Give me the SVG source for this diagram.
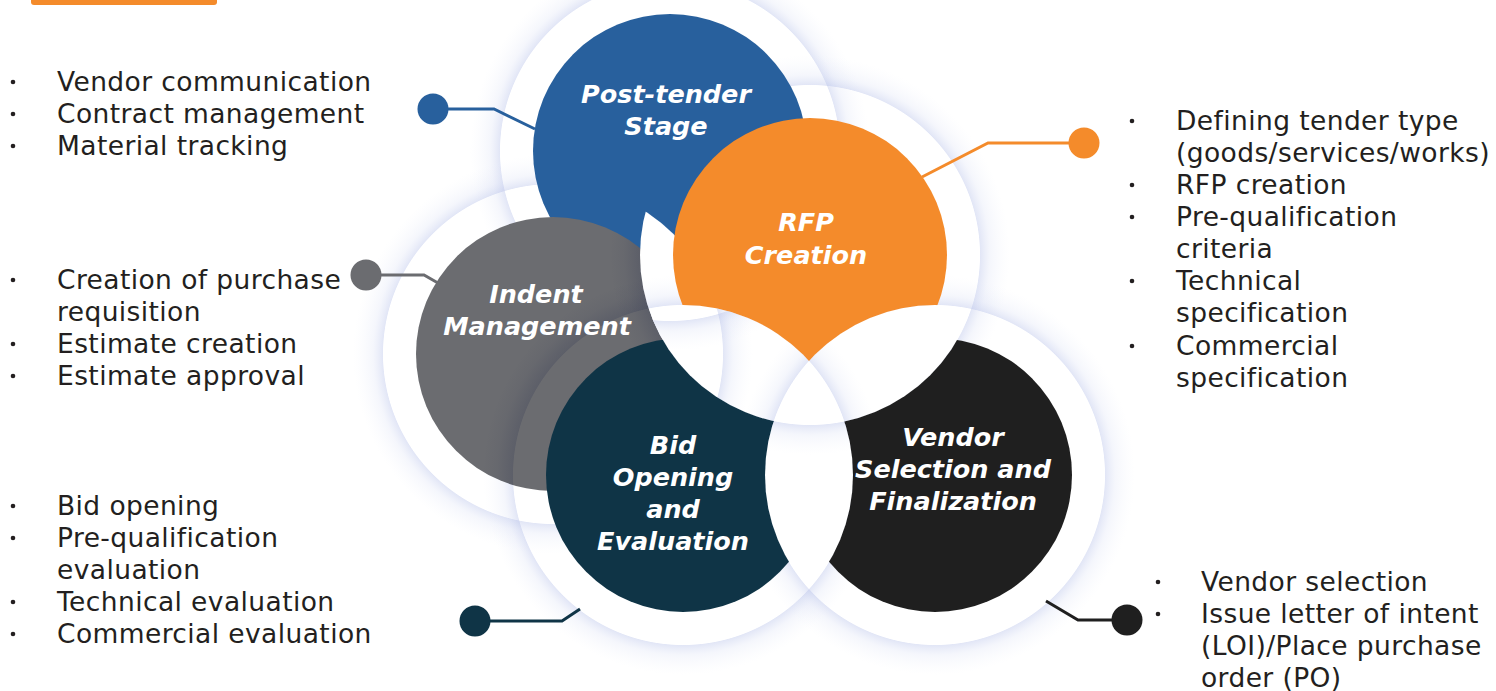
<svg xmlns="http://www.w3.org/2000/svg" width="1496" height="691" viewBox="0 0 1496 691">
<defs>
<style>
.lst{font-family:"DejaVu Sans",sans-serif;font-size:26.5px;fill:#231f20;letter-spacing:0.4px}
.ttl{font-family:"DejaVu Sans",sans-serif;font-size:25.5px;font-weight:bold;font-style:italic;fill:#ffffff;text-anchor:middle}
.blt{fill:#231f20}
.halo{fill:#ffffff}
.glow{fill:url(#glowGrad)}
.shade{fill:url(#shadeGrad)}
.conn{fill:none;stroke-width:3}
</style>
<radialGradient id="glowGrad" cx="0.5" cy="0.5" r="0.5">
<stop offset="0.848" stop-color="#b3bee8" stop-opacity="0"/>
<stop offset="0.852" stop-color="#b3bee8" stop-opacity="0.38"/>
<stop offset="0.9" stop-color="#c6cfef" stop-opacity="0.18"/>
<stop offset="1" stop-color="#e3e8f8" stop-opacity="0"/>
</radialGradient>
<radialGradient id="shadeGrad" cx="0.5" cy="0.5" r="0.5">
<stop offset="0.848" stop-color="#1c2448" stop-opacity="0"/>
<stop offset="0.852" stop-color="#1c2448" stop-opacity="0.18"/>
<stop offset="0.93" stop-color="#1c2448" stop-opacity="0.05"/>
<stop offset="1" stop-color="#1c2448" stop-opacity="0"/>
</radialGradient>
<clipPath id="cpP"><circle cx="670" cy="151" r="170"/></clipPath>
<clipPath id="cpR"><circle cx="810" cy="255" r="170"/></clipPath>
<clipPath id="cpI"><circle cx="553" cy="354" r="170"/></clipPath>
<clipPath id="cpB"><circle cx="683" cy="475" r="170"/></clipPath>
<clipPath id="cpV"><circle cx="935" cy="475" r="170"/></clipPath>
<clipPath id="cpIc"><circle cx="553" cy="354" r="137"/></clipPath>
<g id="glows">
<circle class="glow" cx="670" cy="151" r="200"/>
<circle class="glow" cx="810" cy="255" r="200"/>
<circle class="glow" cx="553" cy="354" r="200"/>
<circle class="glow" cx="683" cy="475" r="200"/>
<circle class="glow" cx="935" cy="475" r="200"/>
</g>
</defs>
<rect width="1496" height="691" fill="#ffffff"/>
<rect x="31" y="-6" width="186" height="11" rx="3" fill="#f48b2b"/>

<g id="halos">
<circle class="halo" cx="670" cy="151" r="170"/>
<circle class="halo" cx="810" cy="255" r="170"/>
<circle class="halo" cx="553" cy="354" r="170"/>
<circle class="halo" cx="683" cy="475" r="170"/>
<circle class="halo" cx="935" cy="475" r="170"/>
<use href="#glows"/>
</g>

<g id="node-post">
<circle cx="670" cy="151" r="137" fill="#28609d"/>
<text class="ttl" x="666" y="103">Post-tender</text>
<text class="ttl" x="666" y="135">Stage</text>
</g>

<g id="node-indent">
<circle cx="553" cy="354" r="137" fill="#6b6c70"/>
<g clip-path="url(#cpIc)">
<circle class="shade" cx="683" cy="475" r="200"/>
<circle class="shade" cx="810" cy="255" r="200"/>
</g>
<text class="ttl" x="536" y="303">Indent</text>
<text class="ttl" x="537" y="335">Management</text>
</g>

<g id="lens-indent-rfp" clip-path="url(#cpI)">
<g clip-path="url(#cpR)">
<rect width="1496" height="691" fill="#ffffff"/>
<use href="#glows"/>
</g>
</g>

<g id="node-rfp">
<circle cx="810" cy="255" r="137" fill="#f48b2b"/>
<text class="ttl" x="806" y="231">RFP</text>
<text class="ttl" x="806" y="264">Creation</text>
</g>

<g id="node-bid">
<circle cx="683" cy="475" r="137" fill="#0f3446"/>
<text class="ttl" x="673" y="454">Bid</text>
<text class="ttl" x="673" y="486">Opening</text>
<text class="ttl" x="673" y="518">and</text>
<text class="ttl" x="673" y="550">Evaluation</text>
</g>

<g id="node-vendor">
<circle cx="935" cy="475" r="137" fill="#1f1f1f"/>
<text class="ttl" x="953" y="446">Vendor</text>
<text class="ttl" x="953" y="478">Selection and</text>
<text class="ttl" x="953" y="510">Finalization</text>
</g>

<g id="lenses">
<g clip-path="url(#cpR)"><g clip-path="url(#cpB)">
<rect width="1496" height="691" fill="#ffffff"/><use href="#glows"/>
</g></g>
<g clip-path="url(#cpR)"><g clip-path="url(#cpV)">
<rect width="1496" height="691" fill="#ffffff"/><use href="#glows"/>
</g></g>
<g clip-path="url(#cpB)"><g clip-path="url(#cpV)">
<rect width="1496" height="691" fill="#ffffff"/><use href="#glows"/>
</g></g>
</g>

<g id="connectors">
<path class="conn" stroke="#28609d" d="M433,109 H494 L535,129"/>
<circle cx="433" cy="109" r="15.5" fill="#28609d"/>
<path class="conn" stroke="#f48b2b" d="M1084,143 H988 L922,177"/>
<circle cx="1084" cy="143" r="15.5" fill="#f48b2b"/>
<path class="conn" stroke="#6b6c70" d="M366,275 H424 L438,283"/>
<circle cx="366" cy="275" r="15.5" fill="#6b6c70"/>
<path class="conn" stroke="#0f3446" d="M475,621 H562 L580,609"/>
<circle cx="475" cy="621" r="15.5" fill="#0f3446"/>
<path class="conn" stroke="#1f1f1f" d="M1127,620 H1078 L1046,601"/>
<circle cx="1127" cy="620" r="15.5" fill="#1f1f1f"/>
</g>

<g id="list-post">
<circle class="blt" cx="13" cy="82" r="2.3"/>
<circle class="blt" cx="13" cy="114" r="2.3"/>
<circle class="blt" cx="13" cy="146" r="2.3"/>
<text class="lst" x="57" y="91">Vendor communication</text>
<text class="lst" x="57" y="123">Contract management</text>
<text class="lst" x="57" y="155">Material tracking</text>
</g>

<g id="list-indent">
<circle class="blt" cx="13" cy="280" r="2.3"/>
<circle class="blt" cx="13" cy="344" r="2.3"/>
<circle class="blt" cx="13" cy="376" r="2.3"/>
<text class="lst" x="57" y="289">Creation of purchase</text>
<text class="lst" x="57" y="321">requisition</text>
<text class="lst" x="57" y="353">Estimate creation</text>
<text class="lst" x="57" y="385">Estimate approval</text>
</g>

<g id="list-bid">
<circle class="blt" cx="13" cy="506" r="2.3"/>
<circle class="blt" cx="13" cy="538" r="2.3"/>
<circle class="blt" cx="13" cy="602" r="2.3"/>
<circle class="blt" cx="13" cy="634" r="2.3"/>
<text class="lst" x="57" y="515">Bid opening</text>
<text class="lst" x="57" y="547">Pre-qualification</text>
<text class="lst" x="57" y="579">evaluation</text>
<text class="lst" x="57" y="611">Technical evaluation</text>
<text class="lst" x="57" y="643">Commercial evaluation</text>
</g>

<g id="list-rfp">
<circle class="blt" cx="1132" cy="121" r="2.3"/>
<circle class="blt" cx="1132" cy="185" r="2.3"/>
<circle class="blt" cx="1132" cy="217" r="2.3"/>
<circle class="blt" cx="1132" cy="281" r="2.3"/>
<circle class="blt" cx="1132" cy="346" r="2.3"/>
<text class="lst" x="1176" y="130" letter-spacing="0">Defining tender type</text>
<text class="lst" x="1176" y="162" letter-spacing="-0.1">(goods/services/works)</text>
<text class="lst" x="1176" y="194">RFP creation</text>
<text class="lst" x="1176" y="226">Pre-qualification</text>
<text class="lst" x="1176" y="258">criteria</text>
<text class="lst" x="1176" y="290">Technical</text>
<text class="lst" x="1176" y="322">specification</text>
<text class="lst" x="1176" y="355">Commercial</text>
<text class="lst" x="1176" y="387">specification</text>
</g>

<g id="list-vendor">
<circle class="blt" cx="1158" cy="582" r="2.3"/>
<circle class="blt" cx="1158" cy="614" r="2.3"/>
<text class="lst" x="1201" y="591">Vendor selection</text>
<text class="lst" x="1201" y="623">Issue letter of intent</text>
<text class="lst" x="1201" y="655" letter-spacing="0">(LOI)/Place purchase</text>
<text class="lst" x="1201" y="687">order (PO)</text>
</g>
</svg>
